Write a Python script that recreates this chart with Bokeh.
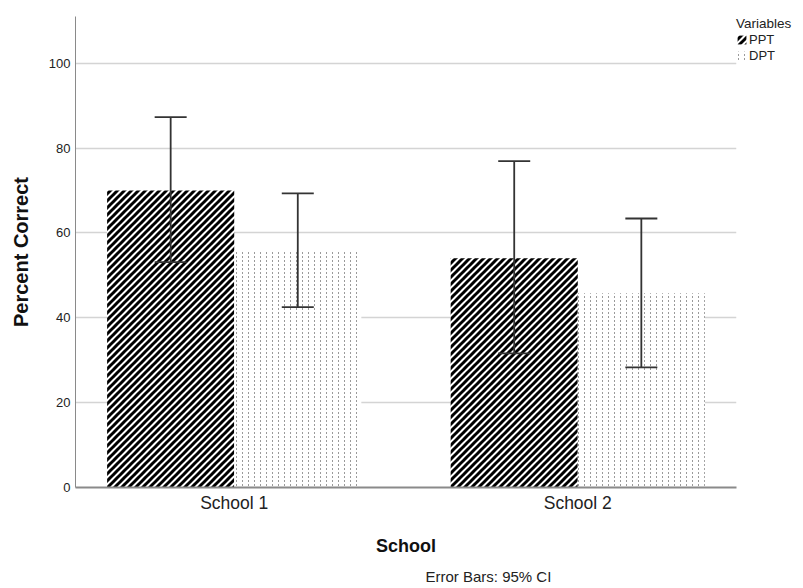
from bokeh.plotting import figure
from bokeh.models import (ColumnDataSource, FactorRange, Range1d, Whisker, TeeHead,
                          Legend, LegendItem, Title, FixedTicker, CanvasTexture)
from bokeh.core.properties import value
from bokeh.transform import dodge
from bokeh.embed import file_html
from bokeh.resources import INLINE

# ---- data ----
schools = ["School 1", "School 2"]
ppt_mean = [70.0, 54.0]
ppt_lower = [53.1, 31.6]
ppt_upper = [87.3, 76.9]
dpt_mean = [55.9, 45.8]
dpt_lower = [42.5, 28.3]
dpt_upper = [69.3, 63.4]
y_ticks = [0, 20, 40, 60, 80, 100]

src = ColumnDataSource(dict(school=schools, ppt=ppt_mean, ppt_lo=ppt_lower, ppt_hi=ppt_upper,
                            dpt=dpt_mean, dpt_lo=dpt_lower, dpt_hi=dpt_upper))

FONT = "Liberation Sans"

# custom hatch textures (tile size set explicitly on the canvas)
stripes = CanvasTexture(repetition="repeat", code="""
const c = ctx.canvas;
c.width = 7; c.height = 7;
const s = 7;
ctx.setTransform(1, 0, 0, 1, 0, 0);
ctx.clearRect(0, 0, s, s);
ctx.strokeStyle = '#000000';
ctx.lineWidth = 3.0;
ctx.lineCap = 'square';
ctx.beginPath();
ctx.moveTo(-1, s + 1); ctx.lineTo(s + 1, -1);
ctx.moveTo(-s - 1, s + 1); ctx.lineTo(1, -1);
ctx.moveTo(s - 1, s + 1); ctx.lineTo(2 * s + 1, -1);
ctx.stroke();
""")
dots = CanvasTexture(repetition="repeat", code="""
const c = ctx.canvas;
c.width = 6; c.height = 4;
ctx.setTransform(1, 0, 0, 1, 0, 0);
ctx.clearRect(0, 0, 6, 4);
ctx.fillStyle = '#9a9a9a';
ctx.fillRect(2, 0, 1, 2);
""")

p = figure(x_range=FactorRange(factors=schools, range_padding=-0.038),
           y_range=Range1d(0, 111),
           frame_width=661, frame_height=471, output_backend="svg", toolbar_location=None,
           min_border_left=75, min_border_right=0, min_border_top=16, min_border_bottom=101)
p.outline_line_color = None
p.background_fill_color = "white"

off = 0.185
bw = 0.37
r_ppt = p.vbar(x=dodge("school", -off, range=p.x_range), top="ppt", width=bw, source=src,
               fill_color="white", line_color=None,
               hatch_pattern=value("ppt_stripes"), hatch_extra={"ppt_stripes": stripes},
               hatch_color="black", hatch_weight=3, hatch_scale=7)
r_dpt = p.vbar(x=dodge("school", off, range=p.x_range), top="dpt", width=bw, source=src,
               fill_color="white", line_color=None,
               hatch_pattern=value("dpt_dots"), hatch_extra={"dpt_dots": dots},
               hatch_color="#9a9a9a", hatch_weight=1, hatch_scale=6)

for o, lo, hi in [(-off, "ppt_lo", "ppt_hi"), (off, "dpt_lo", "dpt_hi")]:
    w = Whisker(base=dodge("school", o, range=p.x_range), lower=lo, upper=hi, source=src,
                level="annotation",
                line_color="#333333", line_width=1.8,
                upper_head=TeeHead(size=32, line_color="#333333", line_width=1.8),
                lower_head=TeeHead(size=32, line_color="#333333", line_width=1.8))
    p.add_layout(w)

# axes
p.yaxis.ticker = FixedTicker(ticks=y_ticks)
p.yaxis.axis_label = "Percent Correct"
p.xaxis.axis_label = "School"
for ax in (p.xaxis[0], p.yaxis[0]):
    ax.major_tick_line_color = None
    ax.minor_tick_line_color = None
    ax.major_tick_out = 0
    ax.major_tick_in = 0
    ax.minor_tick_out = 0
    ax.minor_tick_in = 0
    ax.axis_label_text_font = FONT
    ax.axis_label_text_font_style = "bold"
    ax.axis_label_text_color = "#111111"
    ax.major_label_text_font = FONT
    ax.major_label_text_color = "#222222"
p.xaxis.axis_label_text_font_size = "18px"
p.yaxis.axis_label_text_font_size = "20px"
p.yaxis.axis_line_color = "#8a8a8a"
p.yaxis.major_label_text_font_size = "13px"
p.yaxis.major_label_standoff = 5
p.yaxis.axis_label_standoff = 14
p.xaxis.axis_line_color = "#8a8a8a"
p.xaxis.axis_line_width = 2
p.xaxis.major_label_text_font_size = "17.5px"
p.xaxis.major_label_standoff = 5
p.xaxis.axis_label_standoff = 20

p.xgrid.grid_line_color = None
p.ygrid.grid_line_color = "#d4d4d4"
p.ygrid.grid_line_width = 1.3

# legend
legend = Legend(items=[LegendItem(label="PPT", renderers=[r_ppt]),
                       LegendItem(label="DPT", renderers=[r_dpt])],
                location="top_left", title="Variables",
                title_text_font=FONT, title_text_font_size="13.5px", title_text_font_style="normal",
                title_text_color="#222222", title_standoff=1,
                label_text_font=FONT, label_text_font_size="13px", label_text_color="#222222",
                glyph_width=11, glyph_height=11, label_standoff=2, spacing=1,
                padding=2, margin=0, border_line_color=None, background_fill_alpha=0,
                label_height=13)
p.add_layout(legend, "right")

note = Title(text="Error Bars: 95% CI", align="left", offset=350, standoff=14,
             text_font=FONT, text_font_size="15px", text_font_style="normal",
             text_color="#222222")
p.add_layout(note, "below")

open("out.html", "w").write(file_html(p, INLINE))
